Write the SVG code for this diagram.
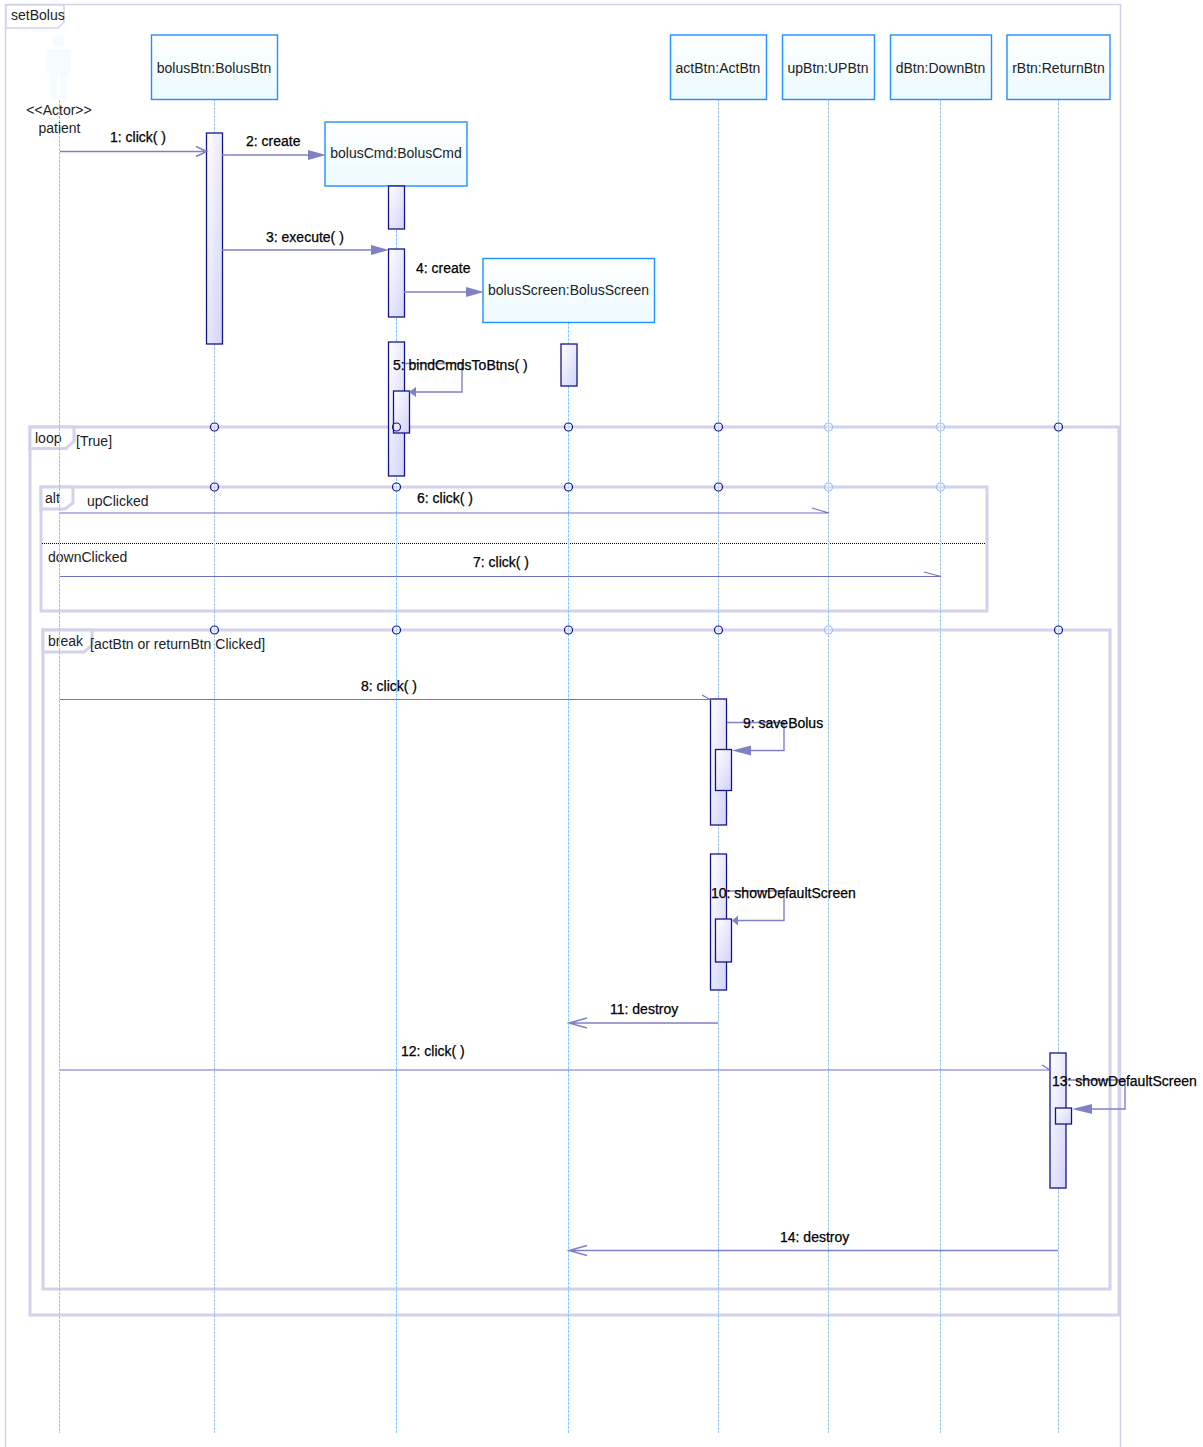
<svg xmlns="http://www.w3.org/2000/svg" width="1203" height="1447" viewBox="0 0 1203 1447">
<style>
text{font-family:"Liberation Sans",Arial,sans-serif;font-size:14px;fill:#222}
.m{fill:#000;stroke:#000;stroke-width:.25px}
.c{text-anchor:middle}
.box{fill:url(#nb);stroke:#1e90ff;stroke-width:1.4}
.life{stroke:#8cc8ff;stroke-width:1;stroke-dasharray:3 1;fill:none}
.frame{fill:none;stroke:#d2d2ea;stroke-width:3}
.tab{fill:#fff;stroke:#d2d2ea;stroke-width:3}
.act{fill:url(#ab);stroke:#14148c;stroke-width:1.3}
.msg{fill:none;stroke:#8080c4;stroke-width:1.4}
.thin{fill:none;stroke:#7070c8;stroke-width:1.1}
.arr{fill:#8080c4;stroke:none}
.dot{fill:#fff;fill-opacity:.3;stroke:#14148c;stroke-width:1.2}
.dotp{fill:#fff;fill-opacity:.3;stroke:#9cc0e8;stroke-width:1.2}
</style>
<defs>
<linearGradient id="nb" x1="0" y1="0" x2="0" y2="1"><stop offset="0" stop-color="#fff"/><stop offset="1" stop-color="#ecfaff"/></linearGradient>
<linearGradient id="ab" x1="0" y1="0" x2="1" y2="1"><stop offset="0" stop-color="#fff"/><stop offset="1" stop-color="#d2d2fa"/></linearGradient>
</defs>
<rect width="1203" height="1447" fill="#fff"/>
<g id="frame-setBolus">
<path d="M5.500 1447V4.500H1120.500V1447" fill="none" stroke="#d2d2ea" stroke-width="1.500"/>
<path d="M6 5H64V22L58 28H6Z" fill="#fff" stroke="#d2d2ea" stroke-width="1.500"/>
<text x="11" y="20">setBolus</text>
</g>
<g id="fragments">
<rect class="frame" x="30" y="427" width="1089" height="888"/>
<path class="tab" d="M30 427H74V441L66 448.500H30Z"/>
<text x="35" y="443">loop</text><text x="76" y="446">[True]</text>
<rect class="frame" x="41" y="487" width="946" height="124"/>
<path class="tab" d="M41 487H73V503L65 509H41Z"/>
<text x="45" y="503">alt</text><text x="87" y="506">upClicked</text>
<line x1="42" y1="543.500" x2="986" y2="543.500" stroke="#000" stroke-width="1" stroke-dasharray="1 1"/>
<text x="48" y="562">downClicked</text>
<rect class="frame" x="43" y="630" width="1067" height="659"/>
<path class="tab" d="M43 630H92V645L84 652H43Z"/>
<text x="48" y="646">break</text><text x="90" y="649">[actBtn or returnBtn Clicked]</text>
</g>
<g id="lifelines">
<line class="life" x1="59.500" y1="100" x2="59.500" y2="1433"/>
<line class="life" x1="214.500" y1="99" x2="214.500" y2="1433"/>
<line class="life" x1="396.500" y1="186" x2="396.500" y2="1433"/>
<line class="life" x1="568.500" y1="322" x2="568.500" y2="1433"/>
<line class="life" x1="718.500" y1="99" x2="718.500" y2="1433"/>
<line class="life" x1="828.500" y1="99" x2="828.500" y2="1433"/>
<line class="life" x1="940.500" y1="99" x2="940.500" y2="1433"/>
<line class="life" x1="1058.500" y1="99" x2="1058.500" y2="1433"/>
</g>
<g id="node-patient">
<circle cx="58.500" cy="41.500" r="6" fill="#f4fcff"/>
<path d="M46 49H71V74H67V99H60V74H57V99H50V74H46Z" fill="#f4fcff"/>
<text class="c" x="59" y="115">&lt;&lt;Actor&gt;&gt;</text>
<text class="c" x="59.500" y="133">patient</text>
</g>
<g id="node-bolusBtn"><rect class="box" x="151.500" y="35" width="126" height="64.500"/><text class="c" x="214" y="73">bolusBtn:BolusBtn</text></g>
<g id="node-bolusCmd"><rect class="box" x="325" y="122" width="142" height="64"/><text class="c" x="396" y="158">bolusCmd:BolusCmd</text></g>
<g id="node-bolusScreen"><rect class="box" x="483" y="258.500" width="171.500" height="64"/><text class="c" x="568.500" y="295">bolusScreen:BolusScreen</text></g>
<g id="node-actBtn"><rect class="box" x="670.500" y="35" width="96" height="64.500"/><text class="c" x="718" y="73">actBtn:ActBtn</text></g>
<g id="node-upBtn"><rect class="box" x="782.500" y="35" width="92" height="64.500"/><text class="c" x="828" y="73">upBtn:UPBtn</text></g>
<g id="node-dBtn"><rect class="box" x="890.500" y="35" width="101" height="64.500"/><text class="c" x="940.500" y="73">dBtn:DownBtn</text></g>
<g id="node-rBtn"><rect class="box" x="1007" y="35" width="103" height="64.500"/><text class="c" x="1058.500" y="73">rBtn:ReturnBtn</text></g>
<g id="activations">
<rect class="act" x="206.500" y="133" width="16" height="211"/>
<rect class="act" x="388.500" y="186" width="16" height="43"/>
<rect class="act" x="388.500" y="249" width="16" height="68"/>
<rect class="act" x="388.500" y="342" width="16" height="134"/>
<rect class="act" x="393.500" y="391" width="16" height="42"/>
<rect class="act" x="561" y="344" width="16" height="42"/>
<rect class="act" x="710.500" y="699" width="16" height="126"/>
<rect class="act" x="715.500" y="749.500" width="16" height="41"/>
<rect class="act" x="710.500" y="854" width="16" height="136"/>
<rect class="act" x="715.500" y="919" width="16" height="43"/>
<rect class="act" x="1050" y="1053" width="16" height="135"/>
<rect class="act" x="1055.500" y="1108" width="16" height="16"/>
</g>
<g id="lifeline-markers">
<g class="dot">
<circle cx="214.500" cy="427" r="4"/><circle cx="396.500" cy="427" r="4"/><circle cx="568.500" cy="427" r="4"/><circle cx="718.500" cy="427" r="4"/><circle cx="1058.500" cy="427" r="4"/>
<circle cx="214.500" cy="487" r="4"/><circle cx="396.500" cy="487" r="4"/><circle cx="568.500" cy="487" r="4"/><circle cx="718.500" cy="487" r="4"/>
<circle cx="214.500" cy="630" r="4"/><circle cx="396.500" cy="630" r="4"/><circle cx="568.500" cy="630" r="4"/><circle cx="718.500" cy="630" r="4"/><circle cx="1058.500" cy="630" r="4"/>
</g>
<g class="dotp">
<circle cx="828.500" cy="427" r="4"/><circle cx="940.500" cy="427" r="4"/><circle cx="828.500" cy="487" r="4"/><circle cx="940.500" cy="487" r="4"/><circle cx="828.500" cy="630" r="4"/>
</g>
</g>
<g id="connectors">
<path class="msg" d="M60 151.500H206M196 146.500L207 151.500L196 156.500"/>
<path class="msg" d="M222 155H309"/><path class="arr" d="M308 150L326 155L308 160Z"/>
<path class="msg" d="M222 250H372"/><path class="arr" d="M371 245L389 250L371 255Z"/>
<path class="msg" d="M404 292H467"/><path class="arr" d="M466 287L484 292L466 297Z"/>
<path class="msg" d="M405 363.500H462V392H415"/><path class="arr" d="M416 387L409 392L416 397Z"/>
<path class="thin" d="M60 513H829L812 508"/>
<path class="thin" d="M60 576.500H941L924 572"/>
<path class="thin" d="M60 699.500H710L702 695"/>
<path class="msg" d="M727 722.500H784V750.500H750"/><path class="arr" d="M751 745.500L732 750.500L751 755.500Z"/>
<path class="msg" d="M727 891H784V920.500H737"/><path class="arr" d="M738 915.500L732 920.500L738 925.500Z"/>
<path class="msg" d="M718 1023H570M587 1018L569 1023L587 1028"/>
<path class="thin" d="M60 1070H1050L1042 1065"/>
<path class="msg" d="M1067 1080H1125V1109H1090"/><path class="arr" d="M1092 1104L1072 1109L1092 1114Z"/>
<path class="msg" d="M1058 1250.500H570M587 1245.500L569 1250.500L587 1255.500"/>
</g>
<g id="connector-labels">
<text class="m" x="110" y="142">1: click( )</text>
<text class="m" x="246" y="146">2: create</text>
<text class="m" x="266" y="242">3: execute( )</text>
<text class="m" x="416" y="273">4: create</text>
<text class="m" x="393" y="370">5: bindCmdsToBtns( )</text>
<text class="m" x="417" y="503">6: click( )</text>
<text class="m" x="473" y="567">7: click( )</text>
<text class="m" x="361" y="691">8: click( )</text>
<text class="m" x="743" y="728">9: saveBolus</text>
<text class="m" x="711" y="898">10: showDefaultScreen</text>
<text class="m" x="610" y="1014">11: destroy</text>
<text class="m" x="401" y="1056">12: click( )</text>
<text class="m" x="1052" y="1086">13: showDefaultScreen</text>
<text class="m" x="780" y="1242">14: destroy</text>
</g>
</svg>
